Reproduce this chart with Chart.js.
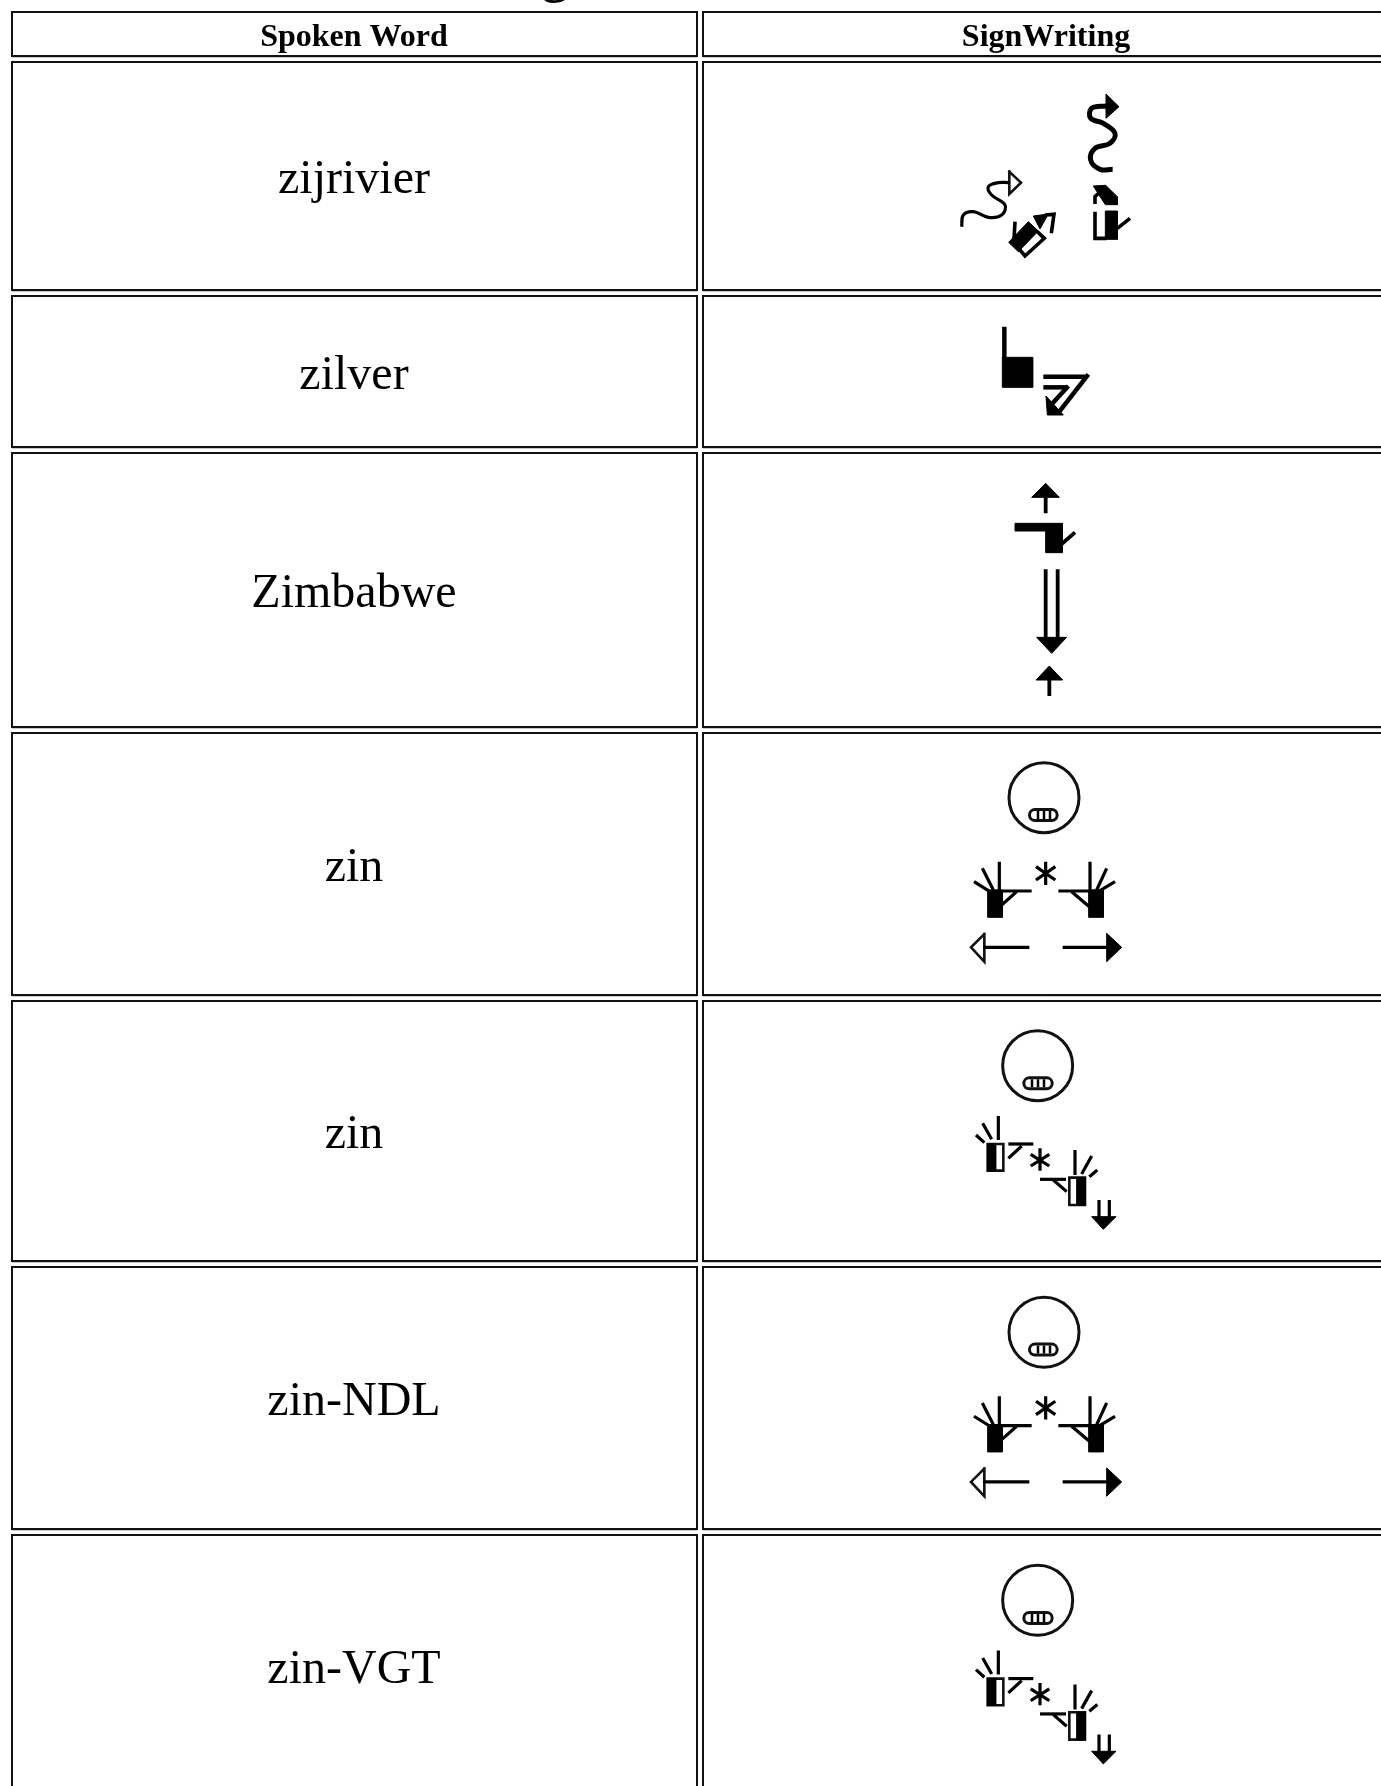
<!DOCTYPE html>
<html>
<head>
<meta charset="utf-8">
<title>SignWriting</title>
<script src="https://cdn.jsdelivr.net/npm/chart.js@4"></script>
<style>
  html, body { margin: 0; padding: 0; background: #fff; overflow: hidden; }
  canvas { display: block; }
</style>
</head>
<body>
<canvas id="chart1" width="1381" height="1786"></canvas>
<script>
// table content
const headers = ["Spoken Word", "SignWriting"];
const words = ["zijrivier", "zilver", "Zimbabwe", "zin", "zin", "zin-NDL", "zin-VGT"];

// table grid
const colLefts = [12, 703];
const colRights = [697, 1400];
const colCentres = [354, 1046];
const rowTops = [12, 62, 296, 453, 733, 1001, 1267, 1535];
const rowBottoms = [56, 290, 447, 727, 995, 1261, 1529, 1800];

const riverFilled = [[558,42, 597,80, 558,115], [520,318, 557,316, 592,350, 592,374, 556,374],
  [556,393, 592,393, 592,478, 556,478], [266,487, 325,425, 355,453, 295,515], [340,408, 385,402, 360,447]];
const riverHollow = [[268,275, 303,308, 268,342]];
const riverHeavy = [[578,268, 540,268, 512,240, 525,205, 570,190, 585,160, 550,130, 512,115, 515,85, 560,78]];
const riverThin = [[125,440, 130,405, 160,395, 205,412, 245,405, 255,375, 215,345, 205,320, 235,308, 268,308]];
const riverLines = [[285,425, 282,478], [300,510, 315,528, 373,475, 350,453], [375,405, 402,403, 394,460],
  [525,372, 525,350, 558,320], [525,395, 525,475, 560,475], [592,445, 630,415]];

const silverFilled = [[127,142, 218,142, 218,232, 127,232], [258,258, 262,315, 310,315]];
const silverLines = [[133,50, 133,145], [250,200, 375,200], [385,193, 298,305], [250,232, 322,232], [325,228, 268,290]];

const zimbabweFilled = [[155,82, 197,40, 238,82], [105,160, 247,160, 247,248, 197,248, 197,183, 105,183],
  [170,502, 260,502, 215,550], [168,630, 208,588, 248,630]];
const zimbabweLines = [[197,82, 197,130], [245,222, 285,187], [197,298, 197,505], [233,298, 233,505], [208,630, 208,678]];

const zinFace = [282, 143];
const zinMouth = [255,195, 305,195];
const zinTeeth = [[264,183, 264,207], [282,183, 282,207], [300,183, 300,207]];
const zinFilled = [[113,420, 157,420, 157,502, 113,502], [416,420, 460,420, 460,502, 416,502],
  [470,550, 515,592, 470,635]];
const zinHollow = [[103,552, 63,592, 103,635]];
const zinLines = [[148,335, 148,430], [97,355, 130,420], [72,395, 120,425], [130,423, 245,423], [155,465, 200,425],
  [287,335, 287,405], [258,350, 316,390], [258,390, 316,350],
  [420,335, 420,430], [470,355, 440,420], [495,395, 445,425], [325,423, 440,423], [365,425, 418,470],
  [100,592, 238,592], [338,592, 470,592]];

const zinSmallFace = [263, 137];
const zinSmallMouth = [238,190, 290,190];
const zinSmallTeeth = [[246,178, 246,202], [264,178, 264,202], [282,178, 282,202]];
const zinSmallFilled = [[113,372, 137,372, 137,452, 113,452], [380,473, 405,473, 405,555, 380,555],
  [425,590, 498,590, 460,628]];
const zinSmallHollow = [[113,372, 160,372, 160,452, 113,452], [358,473, 405,473, 405,555, 358,555]];
const zinSmallLines = [[145,288, 145,360], [98,310, 125,358], [78,345, 103,368], [175,372, 250,372], [175,415, 215,378],
  [270,385, 270,452], [242,403, 298,438], [242,438, 298,403],
  [375,390, 375,465], [425,408, 395,462], [442,450, 418,470], [270,478, 348,478], [310,480, 350,515],
  [447,540, 447,595], [478,540, 478,595]];

const datasets = [];

// crop points -> chart values
function toPoints(flat, ox, oy) {
  const pts = [];
  for (let i = 0; i < flat.length; i += 2) {
    pts.push({ x: ox + flat[i] / 3, y: oy + flat[i + 1] / 3 });
  }
  return pts;
}

// chart.js paints the first dataset last, so later ones get a lower order
function addLine(points, width, color, extra) {
  datasets.push(Object.assign({
    data: points,
    borderColor: color,
    borderWidth: width,
    backgroundColor: color,
    pointRadius: 0,
    borderCapStyle: "butt",
    borderJoinStyle: "miter",
    fill: false,
    tension: 0,
    order: -datasets.length,
  }, extra));
}

function addFilled(list, ox, oy) {
  list.forEach((flat) => {
    const pts = toPoints(flat, ox, oy);
    pts.push(pts[0]);
    addLine(pts, 1, "#000", { fill: "shape" });
  });
}

function addHollow(list, ox, oy) {
  list.forEach((flat) => {
    const pts = toPoints(flat, ox, oy);
    pts.push(pts[0]);
    addLine(pts, 2.6, "#111", { borderCapStyle: "square" });
  });
}

function addLines(list, ox, oy, width) {
  list.forEach((flat) => addLine(toPoints(flat, ox, oy), width, "#000"));
}

function addFace(face, mouth, teeth, ox, oy) {
  addLine(toPoints(face, ox, oy), 2, "#111", { pointRadius: 35, pointBorderWidth: 3, pointBackgroundColor: "#fff", pointBorderColor: "#111" });
  addLine(toPoints(mouth, ox, oy), 14, "#111", { borderCapStyle: "round" });
  addLine(toPoints(mouth, ox, oy), 8, "#fff", { borderCapStyle: "round" });
  addLines(teeth, ox, oy, 2.5);
}

// table cells
rowTops.forEach((top, r) => {
  colLefts.forEach((left, c) => {
    const right = colRights[c];
    const bottom = rowBottoms[r];
    addLine([{ x: left, y: bottom + 1.5 }, { x: right, y: bottom + 1.5 }], 1, "#c8c8c8");
    addLine([{ x: left, y: top }, { x: right, y: top }, { x: right, y: bottom }, { x: left, y: bottom }, { x: left, y: top }],
      2, "#111", { borderCapStyle: "square" });
  });
});

// zijrivier
addFilled(riverFilled, 920, 80);
addHollow(riverHollow, 920, 80);
addLine(toPoints(riverHeavy[0], 920, 80), 5, "#000", { tension: 0.4 });
addLine(toPoints(riverThin[0], 920, 80), 3.2, "#000", { tension: 0.4 });
addLines(riverLines, 920, 80, 3.6);

// zilver
addFilled(silverFilled, 960, 310);
addLines(silverLines, 960, 310, 4.5);

// Zimbabwe
addFilled(zimbabweFilled, 980, 470);
addLines(zimbabweLines, 980, 470, 3.8);

// zin and zin-NDL have the same sign, zin and zin-VGT too
[750, 1284.6].forEach((oy) => {
  addFace(zinFace, zinMouth, zinTeeth, 950, oy);
  addFilled(zinFilled, 950, oy);
  addHollow(zinHollow, 950, oy);
  addLines(zinLines, 950, oy, 3.2);
});
[1020, 1554.6].forEach((oy) => {
  addFace(zinSmallFace, zinSmallMouth, zinSmallTeeth, 950, oy);
  addHollow(zinSmallHollow, 950, oy);
  addFilled(zinSmallFilled, 950, oy);
  addLines(zinSmallLines, 950, oy, 3.2);
});

// header and word texts
const tableText = {
  id: "tableText",
  afterDraw(chart) {
    const { ctx, scales } = chart;
    ctx.save();
    ctx.fillStyle = "#000";
    ctx.textAlign = "center";
    ctx.textBaseline = "alphabetic";

    // bottom of the page heading, the rest is cut off
    ctx.font = "bold 52px 'Liberation Serif'";
    ctx.fillText("g", scales.x.getPixelForValue(555), scales.y.getPixelForValue(-8));

    ctx.font = "bold 32px 'Liberation Serif'";
    headers.forEach((h, c) => {
      ctx.fillText(h, scales.x.getPixelForValue(colCentres[c]), scales.y.getPixelForValue(46));
    });

    ctx.font = "48px 'Liberation Serif'";
    words.forEach((w, i) => {
      const mid = (rowTops[i + 1] + rowBottoms[i + 1]) / 2;
      const y = i === 6 ? 1683 : mid + 17;
      ctx.fillText(w, scales.x.getPixelForValue(colCentres[0]), scales.y.getPixelForValue(y));
    });
    ctx.restore();
  },
};

new Chart(document.getElementById("chart1"), {
  type: "line",
  data: { datasets: datasets },
  plugins: [tableText],
  options: {
    responsive: false,
    animation: false,
    layout: { padding: 0, autoPadding: false },
    clip: false,
    plugins: {
      legend: { display: false },
      title: { display: false },
      tooltip: { enabled: false },
    },
    scales: {
      x: { type: "linear", min: 0, max: 1381, display: false },
      y: { type: "linear", min: 0, max: 1786, reverse: true, display: false },
    },
  },
});
</script>
</body>
</html>
